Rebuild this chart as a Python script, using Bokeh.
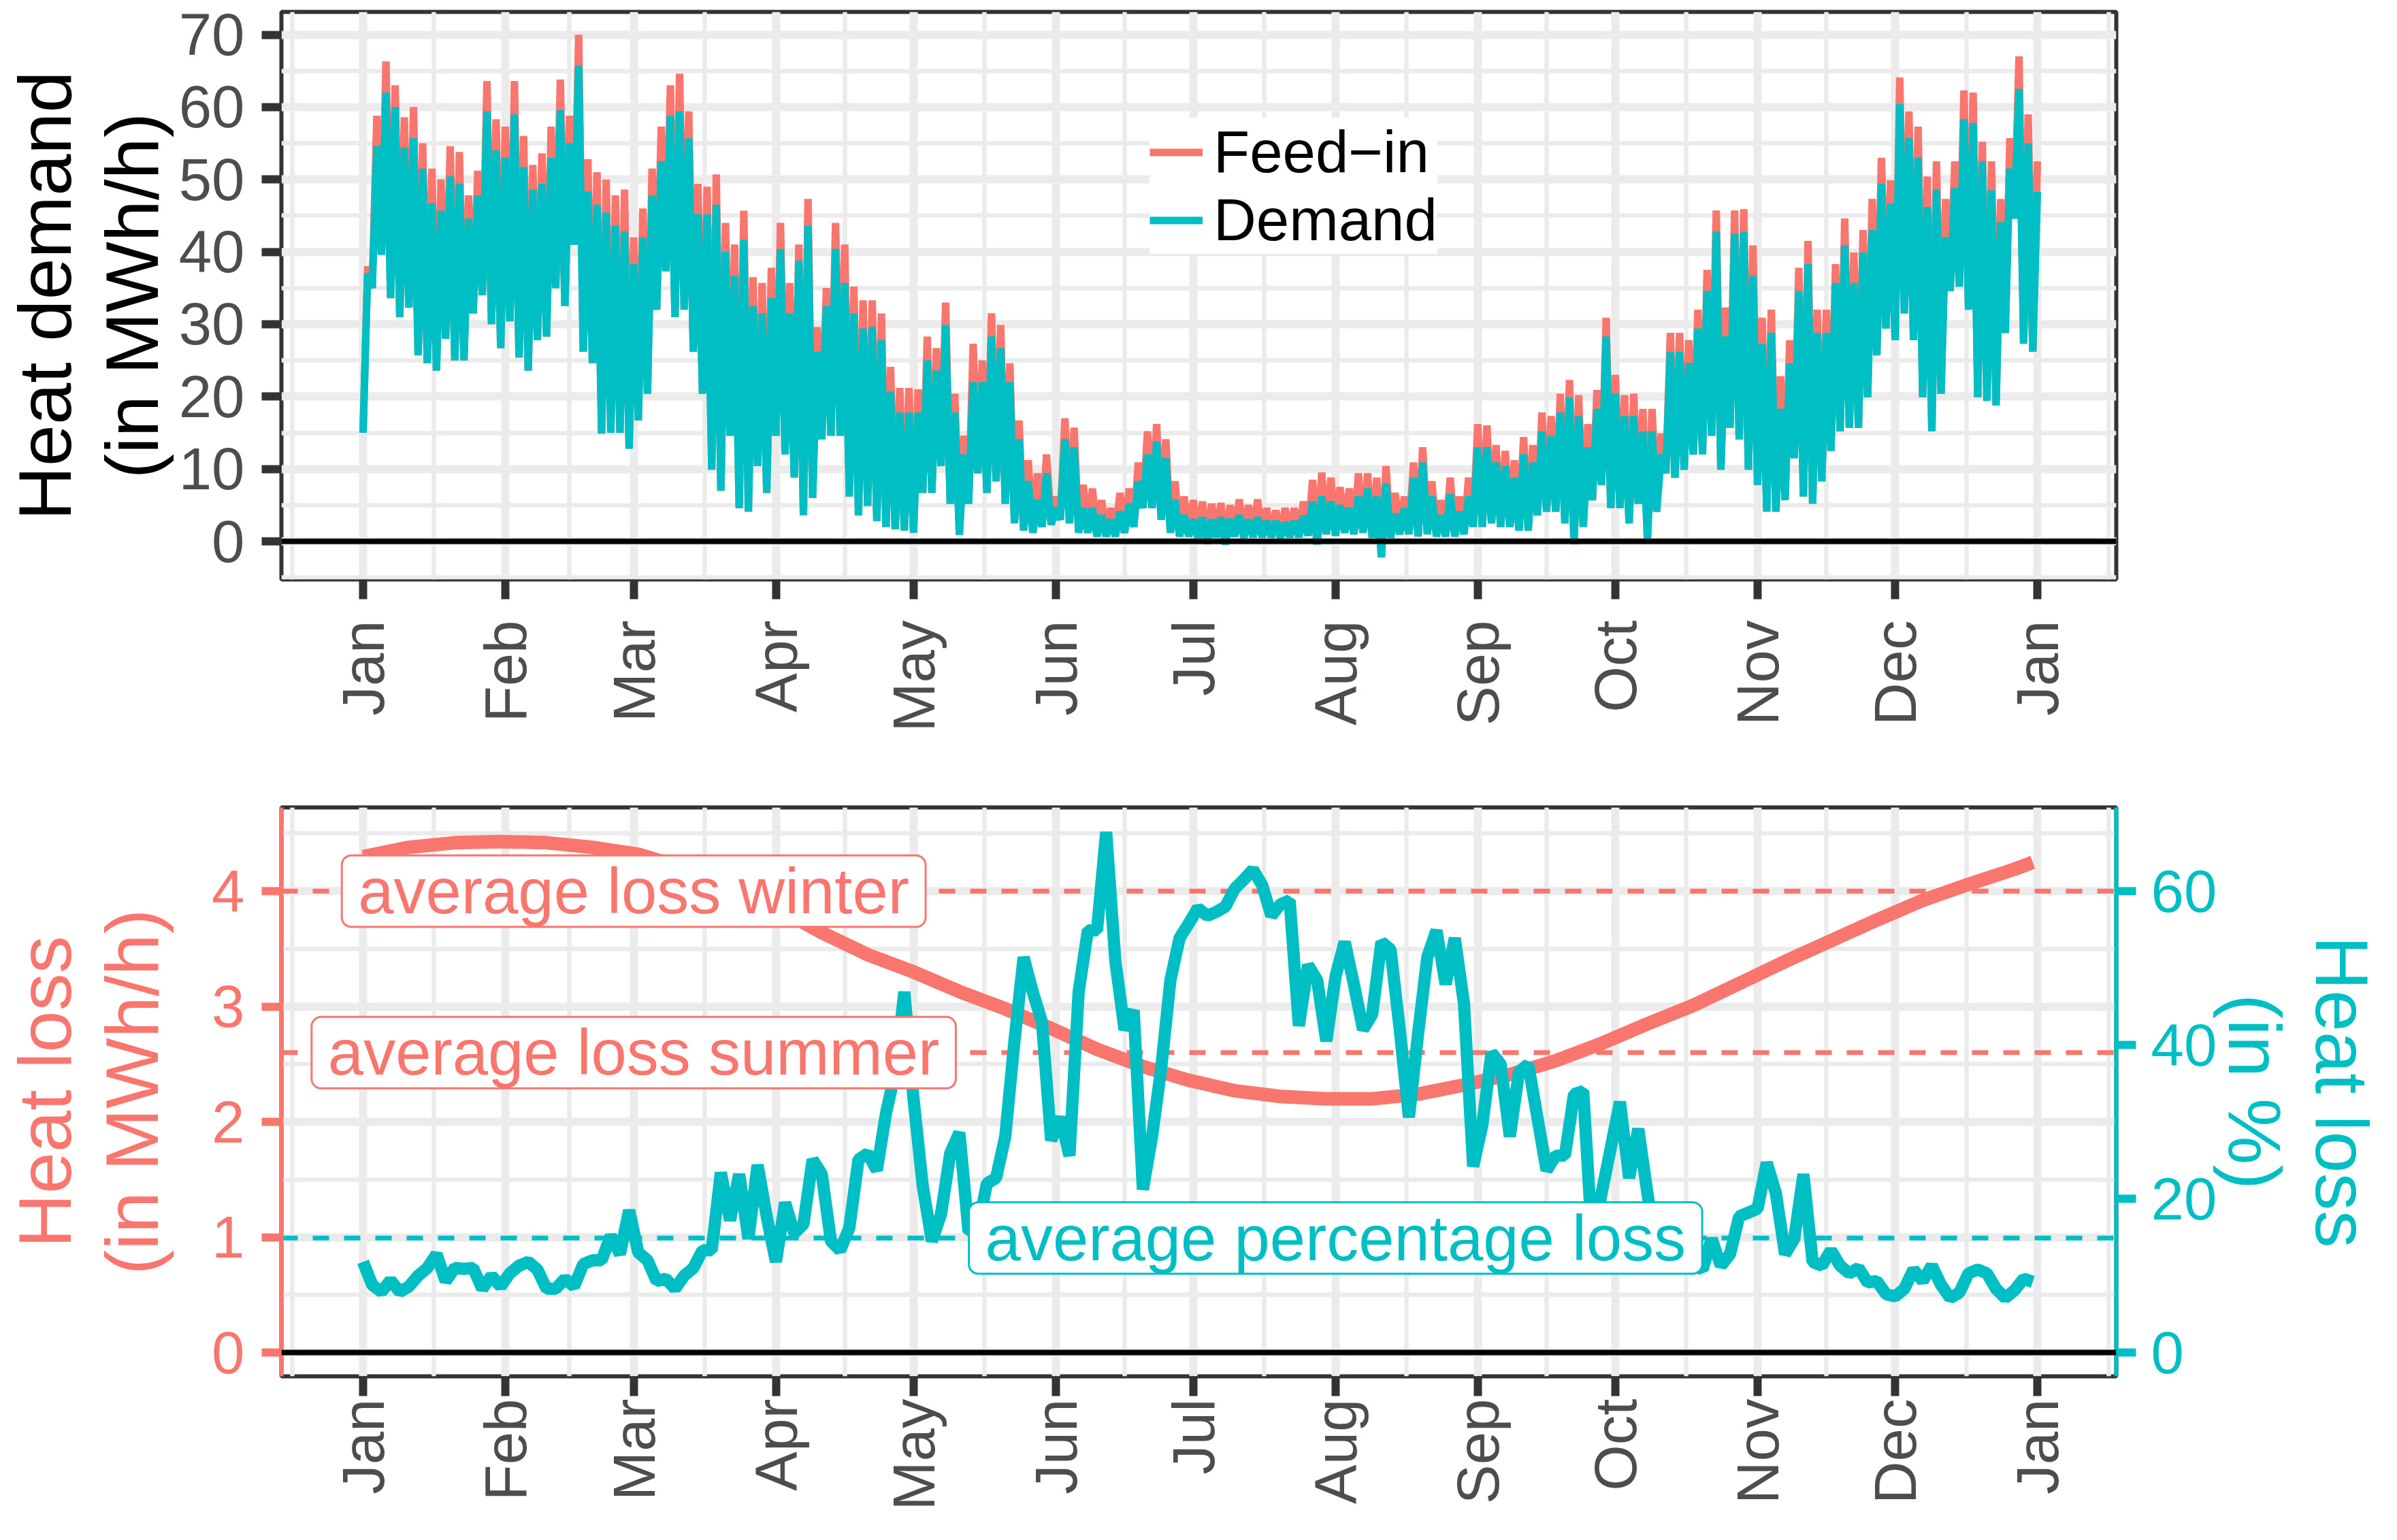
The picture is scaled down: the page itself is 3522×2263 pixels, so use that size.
import math
from bokeh.plotting import figure
from bokeh.models import (Range1d, LinearAxis, FixedTicker, Span, Label, Legend, LegendItem)
from bokeh.layouts import column
from bokeh.embed import file_html
from bokeh.resources import INLINE

# ---------------- data ----------------
month_starts = [0, 31, 59, 90, 120, 151, 181, 212, 243, 273, 304, 334, 365]
month_labels = ["Jan", "Feb", "Mar", "Apr", "May", "Jun", "Jul", "Aug", "Sep", "Oct", "Nov", "Dec", "Jan"]

# sample days (every 2nd day of the year)
days = list(range(0, 365, 2))

demand_hi = [37, 54.6, 62, 60, 54.4, 55.7, 51.5, 46.7, 45.7, 50.4, 49.4, 44.6, 47.8, 59.4, 54, 53, 59, 51.7,
             48.6, 49.4, 53, 59.6, 55, 65.7, 48.3, 46.5, 45.4, 43.6, 42.8, 38.3, 42, 47.8, 52.5, 58.8, 59.4,
             55.7, 45.2, 45.2, 46.5, 40, 36.7, 41.7, 32.5, 31.5, 33.6, 40.4, 31.5, 38.8, 43.6, 26.2, 32.5,
             40.4, 35.7, 31.5, 29.4, 29.6, 27.8, 20.7, 17.8, 17.8,
             17.8, 25, 23.6, 29.9, 17.8, 12, 22, 22, 28.3, 26.7, 22, 14.1, 8.3, 5.7, 9.4, 4.6, 14.1, 13,
             4.6, 4.6, 3.6, 3, 4.1, 5.2, 8.3, 12, 13.8, 11.5, 5.7, 3.6, 3, 3.3, 3.0, 3.3, 3.1, 3.6, 3.0,
             3.3, 2.8, 2.8, 2.6, 2.8, 3.5, 5.5, 6.2, 5.5, 5, 4.6, 6.2, 7.3, 6.2, 8, 3.8, 4.6, 8.8, 10.9,
             6.2, 3.6, 6.5, 4.1, 6.2, 13,
             13, 10.9, 10.4, 8.8, 12, 10.9, 15.2, 14.6, 17.8, 19.9, 17.3, 13, 18.3, 28.3, 20.4, 17.3,
             17.3, 15.2, 15.2, 12, 26.2, 26.2, 24.6, 29.4, 34.6, 42.8, 28.3, 42.5, 42.8, 36.7, 27.3, 28.8,
             18.3, 24.6, 34.6, 38.3, 28.8, 28.8, 35.7, 40.9, 35.7, 39.9, 43, 49.4, 46.7, 60.4, 55.7, 53,
             46.2, 48.6, 42, 48.8, 58.3, 57.8, 52.5, 48.5, 44.1, 51.5, 62.5, 55, 48.3]

feedin_hi = [38, 58.8, 66.3, 63, 58.6, 60, 55, 51.5, 50, 54.6, 53.8, 47.8, 51.2, 63.6, 58.3, 57.3, 63.6, 56,
             52, 53.6, 57.3, 63.8, 58.8, 70, 52.8, 51, 50, 47.8, 48.6, 42, 46, 51.5, 57.3, 63, 64.6, 59.4,
             49.4, 49, 50.7, 44, 41, 45.7, 36.5, 35.7, 37.8, 44, 35.7, 41, 47.3, 29.6, 35, 44, 41, 35.2,
             33.3, 33.3, 31.5, 24.1, 21.2, 21.2,
             21, 28.3, 26.7, 33, 20.4, 14.6, 27.3, 25, 31.5, 29.9, 24.6, 16.7, 11.2, 9.4, 12, 6.2, 17,
             15.7, 7.8, 7.3, 5.7, 4.6, 6.7, 7.3, 10.9, 15.2, 16.2, 14.1, 8.3, 6.2, 5.7, 5.5, 5.2, 5.3,
             5.0, 5.8, 5.0, 5.8, 4.6, 4.3, 4.6, 4.6, 5.5, 8.5, 9.5, 8.8, 7.5, 7.3, 9.4, 9.4, 8.8, 10.4,
             6.7, 6.2, 10.9, 13, 8.3, 5.7, 8.8, 6.2, 8.8, 16.2,
             16, 13.3, 12.5, 11.2, 14.4, 13.3, 17.8, 17.3, 20.4, 22.3, 20.2, 16.2, 20.9, 30.9, 23, 20.2,
             20.4, 18.3, 18.3, 14.9, 28.8, 28.8, 27.8, 32, 37.5, 45.7, 32.3, 45.7, 45.9, 40.9, 30.9, 32,
             22.8, 27.8, 37.8, 41.5, 32, 32, 38.3, 44.6, 39.9, 43, 47.3, 53, 49.9, 64.1, 59.4, 57.3,
             50.4, 52.5, 47.3, 52.5, 62.3, 62, 55.2, 52.5, 47.3, 55.7, 67, 59, 52.5]

demand_lo = [15, 35, 39.6, 33.6, 31, 32.3, 25.7, 24.6, 23.6, 28, 25, 25, 31.5, 34, 30, 26.7, 30.4, 25.4,
             23.6, 27.8, 28.3, 35, 32.5, 41, 26.2, 24.6, 14.9, 15, 15, 12.8, 16.7, 20.4, 32, 37.3, 31, 32,
             26.2, 20.4, 9.9, 7, 14.6, 4.6, 4.1, 10.4, 6.7, 14.6, 12, 8.8, 3.6, 6, 14.1, 14.6, 14.6, 6.2,
             3.6, 4.9, 2.8, 2, 1.7, 1.5,
             1.2, 6.7, 6.7, 10.4, 5.2, 0.9, 5.2, 9.4, 6.7, 8.3, 5.2, 2.5, 1.5, 1.2, 2, 2.3, 3, 2.5, 1.2,
             1.2, 0.7, 0.7, 0.7, 1.2, 2, 4.6, 4.6, 3, 1.2, 0.7, 0.7, 0.5, -0.3, 0.6, -0.4, 0.7, 0.5, 0.6,
             0.6, 0.6, 0.5, 0.6, 0.6, 0.8, -0.4, 1, 0.8, 1.2, 1, 1.2, 0.5, -2.2, 0.5, 1, 1, 0.7, 1, 0.7,
             0.7, 0.7, 1, 2,
             2, 2.5, 2, 2, 1.5, 1.5, 3.6, 4.1, 4.1, 2.5, -0.4, 2, 5.7, 7.8, 4.6, 4.6, 2.5, 5.2, 0.2, 4.1,
             9.4, 8.8, 9.9, 12, 12, 14.6, 9.9, 15.7, 14.1, 9.9, 7.8, 4.1, 4.1, 5.7, 11.5, 6.2, 5.2, 8.3,
             12.5, 15.2, 15.7, 15.7, 19.9, 25.7, 29.4, 27.8, 31.5, 27.8, 19.9, 15.2, 20.4, 34.6, 35.2, 32,
             19.9, 19.4, 18.8, 28.8, 44.6, 27.3, 26.2]

# heat loss (MWh/h), smooth curve
loss_days = [0, 10, 20, 30, 40, 50, 60, 70, 80, 90, 100, 110, 120, 130, 140, 150, 160, 170, 180, 190,
             200, 210, 220, 230, 240, 250, 260, 270, 280, 290, 300, 310, 320, 330, 340, 350, 360, 364]
loss_vals = [4.30, 4.38, 4.42, 4.43, 4.42, 4.38, 4.32, 4.20, 4.04, 3.86, 3.64, 3.45, 3.30, 3.13, 2.98,
             2.81, 2.63, 2.48, 2.36, 2.27, 2.22, 2.20, 2.20, 2.24, 2.32, 2.41, 2.53, 2.68, 2.85, 3.01,
             3.20, 3.39, 3.57, 3.75, 3.92, 4.06, 4.19, 4.25]

# heat loss in percent (same sample days)
loss_pct = [11.8, 8.8, 7.9, 9.4, 7.9, 8.6, 10, 11, 12.8, 9.3, 11, 10.9, 11, 8.3, 10, 8.6, 10.3, 11.3,
            11.8, 10.8, 8.3, 8.3, 9.6, 8.6, 11.5, 12, 12, 15.2, 12.8, 18.5, 13, 12, 9.3, 9.6, 8.3, 10, 11,
            13.3, 13.3, 23.4, 17.2, 23.2, 14.8, 24.4, 17.7, 11.8, 19.5, 15.5, 16.7, 25.1, 23.2, 14.5,
            13.3, 16.2, 25.1, 25.9, 23.7, 31.1, 36.5, 46.9,
            33, 21.7, 14.5, 18, 25.9, 28.6, 15.7, 16, 22, 22.7, 28.1, 40.5, 51.4, 46.9, 43, 27.6, 30.6,
            25.6, 46.9, 54.9, 54.9, 67.7, 50.9, 42, 44.5, 21.2, 28.1, 37, 48.4, 53.9, 55.8, 57.8, 56.8,
            57.3, 58, 60.3, 61.5, 62.8, 60.8, 56.8, 58.3, 58.8, 42.5, 50.4, 48.4, 40.5, 48.9, 53.4, 47.9,
            42, 44, 53.4, 52.4, 42, 30.6, 41.5, 51.4, 54.9, 47.9, 53.9, 45.4, 24.2,
            29.6, 39, 37.5, 28.1, 36.5, 37.5, 30.6, 23.7, 25.6, 25.6, 33.6, 34, 14, 20.7, 26.6, 32.6,
            22.7, 29.1, 20.7, 13, 12, 12, 12, 11.5, 10.8, 14.8, 11.3, 12.8, 17.7, 18.2, 18.7, 24.7, 20.7,
            12.8, 14.8, 23.2, 11.8, 11.3, 13.3, 11.3, 10.3, 11, 9.1, 9.3, 7.6, 7.3, 8.3, 10.8, 9.3, 11.3,
            8.8, 7.1, 7.8, 10.3, 10.8, 10.3, 8.3, 7.1, 8.1, 9.6, 9.2]

avg_loss_winter = 4.0
avg_loss_summer = 2.6
avg_loss_pct = 14.9
label_day_loss = 59
label_day_pct = 212

# ---------------- layout / styling ----------------
FONT = "Liberation Sans"
RED = "#F8766D"
CYAN = "#00BFC4"
TXT = "#4D4D4D"
GRID = "#EBEBEB"
W = 3506
XR = (-17.8, 382.2)
YR1 = (-5.26, 73.15)
YR2 = (-0.206, 4.726)
YR2_PCT = (-3.09, 70.89)
FRAME_L, FRAME_R = 411, 3122          # page pixels of the frame edges
MB_L, MB_R = FRAME_L - 8, 8 + W - FRAME_R

month_mid = [(a + b) / 2 for a, b in zip(month_starts[:-1], month_starts[1:])]
minor_x = [-15.5] + month_mid + [380.5]
overrides = {m: lab for m, lab in zip(month_starts, month_labels)}


def zigzag(lo, hi):
    xs, ys = [], []
    for d, l, h in zip(days, lo, hi):
        xs += [d, d + 1]
        ys += [l, h]
    return xs, ys


def style_common(p, xstand):
    p.background_fill_color = "white"
    p.border_fill_color = "white"
    p.outline_line_color = "#333333"
    p.outline_line_width = 6
    for g in (p.xgrid, p.ygrid):
        g.grid_line_color = GRID
        g.grid_line_width = 12
        g.minor_grid_line_color = GRID
        g.minor_grid_line_width = 6.5
        g.level = "underlay"
    xa = p.xaxis[0]
    xa.ticker = FixedTicker(ticks=month_starts, minor_ticks=minor_x)
    xa.major_label_overrides = overrides
    xa.major_label_orientation = math.pi / 2
    xa.major_label_text_font = FONT
    xa.major_label_text_font_size = "87px"
    xa.major_label_text_color = TXT
    xa.major_label_standoff = xstand
    xa.major_tick_out = 29
    xa.major_tick_in = 0
    xa.major_tick_line_width = 12
    xa.major_tick_line_color = "#333333"
    xa.minor_tick_out = 0
    xa.minor_tick_in = 0
    xa.axis_line_color = None


def style_y(ax, color, tickcolor, label, labelcolor, stand, lstand):
    ax.major_label_text_font = FONT
    ax.major_label_text_font_size = "87px"
    ax.major_label_text_color = color
    ax.major_label_standoff = stand
    ax.major_tick_out = 29
    ax.major_tick_in = 0
    ax.major_tick_line_width = 12
    ax.major_tick_line_color = tickcolor
    ax.minor_tick_out = 0
    ax.minor_tick_in = 0
    ax.axis_label = label
    ax.axis_label_text_font = FONT
    ax.axis_label_text_font_size = "110px"
    ax.axis_label_text_font_style = "normal"
    ax.axis_label_text_color = labelcolor
    ax.axis_label_standoff = lstand
    ax.axis_label_text_line_height = 1.04


# ---------------- top panel ----------------
H1 = 1103
p1 = figure(width=W, height=H1, x_range=Range1d(*XR), y_range=Range1d(*YR1),
            output_backend="svg", toolbar_location=None,
            min_border_left=MB_L, min_border_right=MB_R, min_border_top=17,
            min_border_bottom=8 + H1 - 859)
style_common(p1, 31)
p1.yaxis[0].ticker = FixedTicker(ticks=[0, 10, 20, 30, 40, 50, 60, 70],
                                 minor_ticks=[-5, 5, 15, 25, 35, 45, 55, 65])
style_y(p1.yaxis[0], TXT, "#333333", "Heat demand\n(in MWh/h)", "black", 25, 5)
p1.yaxis[0].axis_line_color = None

fx, fy = zigzag(demand_lo, feedin_hi)
dx, dy = zigzag(demand_lo, demand_hi)
r_feed = p1.line(fx, fy, line_color=RED, line_width=11)
r_dem = p1.line(dx, dy, line_color=CYAN, line_width=11)
p1.add_layout(Span(location=0, dimension="width", line_color="black", line_width=8))

legend = Legend(items=[LegendItem(label="Feed\u2212in", renderers=[r_feed]),
                       LegendItem(label="Demand", renderers=[r_dem])],
                location=(1276, 478), orientation="vertical")
legend.label_text_font = FONT
legend.label_text_font_size = "87px"
legend.label_text_color = "black"
legend.glyph_width = 78
legend.glyph_height = 97
legend.label_height = 97
legend.label_standoff = 16
legend.padding = 60
legend.spacing = 0
legend.margin = 0
legend.border_line_color = None
legend.background_fill_color = "white"
legend.background_fill_alpha = 1.0
p1.add_layout(legend)

# ---------------- bottom panel ----------------
top2 = 8 + H1
H2 = 2255 - top2
p2 = figure(width=W, height=H2, x_range=Range1d(*XR), y_range=Range1d(*YR2),
            output_backend="svg", toolbar_location=None,
            min_border_left=MB_L, min_border_right=MB_R, min_border_top=1194 - top2,
            min_border_bottom=2255 - 2030)
p2.extra_y_ranges = {"pct": Range1d(*YR2_PCT)}
style_common(p2, 4)
p2.yaxis[0].ticker = FixedTicker(ticks=[0, 1, 2, 3, 4], minor_ticks=[0.5, 1.5, 2.5, 3.5, 4.5])
style_y(p2.yaxis[0], RED, RED, "Heat loss\n(in MWh/h)", RED, 25, 53)
p2.yaxis[0].axis_line_color = RED
p2.yaxis[0].axis_line_width = 6

ax_r = LinearAxis(y_range_name="pct", ticker=FixedTicker(ticks=[0, 20, 40, 60]))
style_y(ax_r, CYAN, CYAN, "Heat loss\n(in %)", CYAN, 22, -8)
ax_r.axis_line_color = CYAN
ax_r.axis_line_width = 6
p2.add_layout(ax_r, "right")

dash = "24 22"
p2.add_layout(Span(location=avg_loss_winter, dimension="width", line_color=RED, line_width=7,
                   line_dash=dash, level="underlay"))
p2.add_layout(Span(location=avg_loss_summer, dimension="width", line_color=RED, line_width=7,
                   line_dash=dash, level="underlay"))
p2.add_layout(Span(location=avg_loss_pct, dimension="width", y_range_name="pct", line_color=CYAN,
                   line_width=7, line_dash=dash, level="underlay"))

p2.line(loss_days, loss_vals, line_color=RED, line_width=20)
p2.line(days, loss_pct, y_range_name="pct", line_color=CYAN, line_width=18)
p2.add_layout(Span(location=0, dimension="width", line_color="black", line_width=8))


def box_label(x, y, text, color, yr="default"):
    return Label(x=x, y=y, y_range_name=yr, text=text, text_align="center", text_baseline="middle",
                 text_font=FONT, text_font_size="94px", text_color=color,
                 background_fill_color="white", background_fill_alpha=1.0,
                 border_line_color=color, border_line_width=3, padding=(24, 0),
                 border_radius=14)


p2.add_layout(box_label(label_day_loss, avg_loss_winter, "average loss winter", RED))
p2.add_layout(box_label(label_day_loss, avg_loss_summer, "average loss summer", RED))
p2.add_layout(box_label(label_day_pct, avg_loss_pct, "average percentage loss", CYAN, "pct"))

layout = column(p1, p2, spacing=0)
open("out.html", "w").write(file_html(layout, INLINE))
